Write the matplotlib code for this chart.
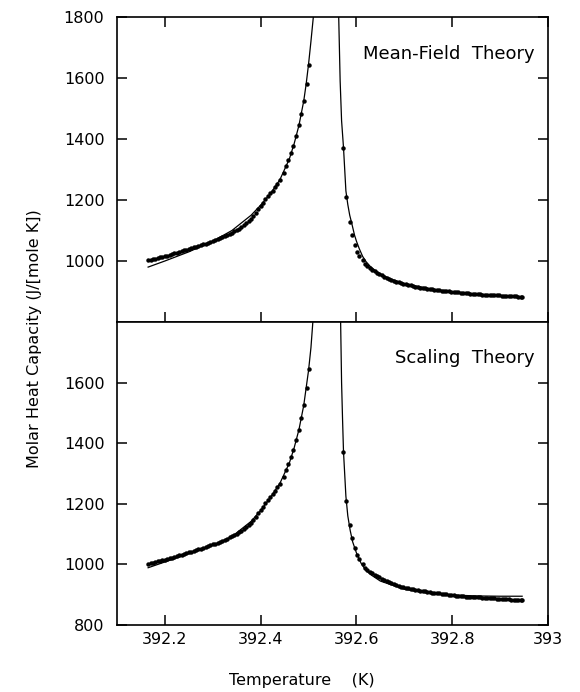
import numpy as np
import matplotlib
matplotlib.use("Agg")
import matplotlib.pyplot as plt

# donnees experimentales (les memes points dans les deux panneaux)
T_low = [392.165, 392.170, 392.175, 392.180, 392.185, 392.190, 392.195, 392.200,
         392.205, 392.210, 392.215, 392.220, 392.225, 392.230, 392.235, 392.240,
         392.245, 392.250, 392.255, 392.260, 392.265, 392.270, 392.275, 392.280,
         392.285, 392.290, 392.295, 392.300, 392.305, 392.310, 392.315, 392.320,
         392.325, 392.330, 392.335, 392.340, 392.345, 392.350, 392.355, 392.360,
         392.365, 392.370, 392.375, 392.380, 392.385, 392.390, 392.395, 392.400,
         392.405, 392.410, 392.415, 392.420, 392.425, 392.430, 392.435, 392.440,
         392.448, 392.453, 392.458, 392.463, 392.468, 392.474, 392.480, 392.485,
         392.491, 392.496, 392.501]
Cp_low = [1002, 1004, 1006, 1008, 1010, 1012, 1014, 1016,
          1018, 1020, 1022, 1025, 1027, 1030, 1032, 1035,
          1037, 1040, 1042, 1045, 1047, 1050, 1052, 1055,
          1057, 1060, 1063, 1066, 1069, 1072, 1075, 1078,
          1082, 1085, 1089, 1093, 1097, 1101, 1106, 1111,
          1117, 1123, 1130, 1138, 1147, 1158, 1169, 1180,
          1191, 1202, 1212, 1222, 1231, 1242, 1254, 1267,
          1290, 1310, 1331, 1353, 1377, 1410, 1445, 1482,
          1526, 1582, 1644]

T_high = [392.573, 392.578, 392.587, 392.590, 392.596, 392.601, 392.606, 392.613,
          392.618, 392.623, 392.628, 392.633, 392.638, 392.643, 392.648, 392.653,
          392.658, 392.663, 392.668, 392.673, 392.678, 392.683, 392.688, 392.693,
          392.698, 392.703, 392.708, 392.713, 392.718, 392.723, 392.728, 392.733,
          392.738, 392.743, 392.748, 392.753, 392.758, 392.763, 392.768, 392.773,
          392.778, 392.783, 392.788, 392.793, 392.798, 392.803, 392.808, 392.813,
          392.818, 392.823, 392.828, 392.833, 392.838, 392.843, 392.848, 392.853,
          392.858, 392.863, 392.868, 392.873, 392.878, 392.883, 392.888, 392.893,
          392.898, 392.903, 392.908, 392.913, 392.918, 392.923, 392.928, 392.933,
          392.938, 392.943, 392.946]
Cp_high = [1372, 1210, 1129, 1086, 1054, 1031, 1018, 1002,
           989, 982, 976, 971, 966, 962, 957, 953,
           948, 944, 941, 938, 935, 932, 930, 927,
           925, 923, 921, 920, 918, 916, 915, 913,
           912, 911, 909, 908, 907, 906, 905, 904,
           903, 902, 901, 900, 899, 898, 897, 897,
           896, 895, 894, 894, 893, 892, 892, 891,
           891, 890, 890, 889, 889, 888, 888, 887,
           887, 886, 886, 885, 885, 884, 884, 884,
           883, 883, 883]

# courbes ajustees : champ moyen
mf_T_low = [392.165, 392.20, 392.25, 392.30, 392.34, 392.38, 392.40, 392.42, 392.44,
            392.46, 392.47, 392.48, 392.49, 392.495, 392.50, 392.505, 392.51]
mf_Cp_low = [980, 1000, 1030, 1065, 1100, 1150, 1183, 1220, 1266,
             1335, 1385, 1445, 1525, 1580, 1645, 1720, 1800]
mf_T_high = [392.563, 392.566, 392.569, 392.573, 392.578, 392.582, 392.586, 392.590,
             392.596, 392.600, 392.606, 392.613, 392.620, 392.629, 392.640, 392.650,
             392.670, 392.700, 392.750, 392.800, 392.850, 392.900, 392.946]
mf_Cp_high = [1800, 1590, 1460, 1372, 1230, 1185, 1150, 1125,
              1085, 1065, 1040, 1015, 998, 982, 968, 958,
              942, 926, 910, 899, 892, 887, 883]

# courbes ajustees : theorie d'echelle
sc_T_low = [392.165, 392.20, 392.25, 392.30, 392.34, 392.38, 392.40, 392.42, 392.44,
            392.46, 392.47, 392.48, 392.49, 392.50, 392.505, 392.509]
sc_Cp_low = [989, 1008, 1035, 1063, 1092, 1142, 1178, 1220, 1267,
             1335, 1385, 1445, 1525, 1640, 1715, 1800]
sc_T_high = [392.567, 392.569, 392.571, 392.573, 392.578, 392.582, 392.587, 392.592,
             392.600, 392.610, 392.620, 392.630, 392.650, 392.700, 392.750, 392.800,
             392.850, 392.900, 392.946]
sc_Cp_high = [1800, 1600, 1480, 1372, 1225, 1160, 1112, 1075,
              1038, 1003, 980, 966, 945, 918, 905, 899,
              896, 895, 895]

x_ticks = [392.2, 392.4, 392.6, 392.8, 393.0]
x_labels = ["392.2", "392.4", "392.6", "392.8", "393"]
top_yticks = [1000, 1200, 1400, 1600, 1800]
bot_yticks = [800, 1000, 1200, 1400, 1600]

plt.rcParams['font.family'] = 'DejaVu Sans'

fig = plt.figure(figsize=(5.8, 6.92), dpi=100)
ax1 = fig.add_axes([0.2017, 0.5347, 0.7431, 0.4407])
ax2 = fig.add_axes([0.2017, 0.0968, 0.7431, 0.4379], sharex=ax1)

panels = [(ax1, mf_T_low, mf_Cp_low, mf_T_high, mf_Cp_high, "Mean-Field  Theory"),
          (ax2, sc_T_low, sc_Cp_low, sc_T_high, sc_Cp_high, "Scaling  Theory")]

for ax, tl, cl, th, ch, titre in panels:
    ax.plot(tl, cl, color='black', lw=0.9)
    ax.plot(th, ch, color='black', lw=0.9)
    ax.plot(T_low, Cp_low, 'o', color='black', ms=3.2, mew=0)
    ax.plot(T_high, Cp_high, 'o', color='black', ms=3.2, mew=0)
    ax.set_xlim(392.1, 393.0)
    ax.set_ylim(800, 1800)
    ax.text(0.97, 0.88, titre, transform=ax.transAxes, ha='right', va='center', fontsize=13)
    for s in ax.spines.values():
        s.set_linewidth(1.2)
    ax.tick_params(direction='in', length=7, width=1.1, labelsize=11.5, pad=9,
                   right=True, left=True)

ax1.tick_params(top=True, bottom=True, labelbottom=False)
ax2.tick_params(top=False, bottom=True)
ax1.set_yticks(top_yticks)
ax2.set_yticks(bot_yticks)
ax2.set_xticks(x_ticks)
ax2.set_xticklabels(x_labels)
ax2.tick_params(axis='x', pad=5)

# titres des axes
fig.text(0.521, 0.017, "Temperature    (K)", ha='center', va='center', fontsize=11.5)
fig.text(0.06, 0.511, "Molar Heat Capacity (J/[mole K])", rotation=90,
         ha='center', va='center', fontsize=11.5)

plt.savefig("out.png", dpi=100)
